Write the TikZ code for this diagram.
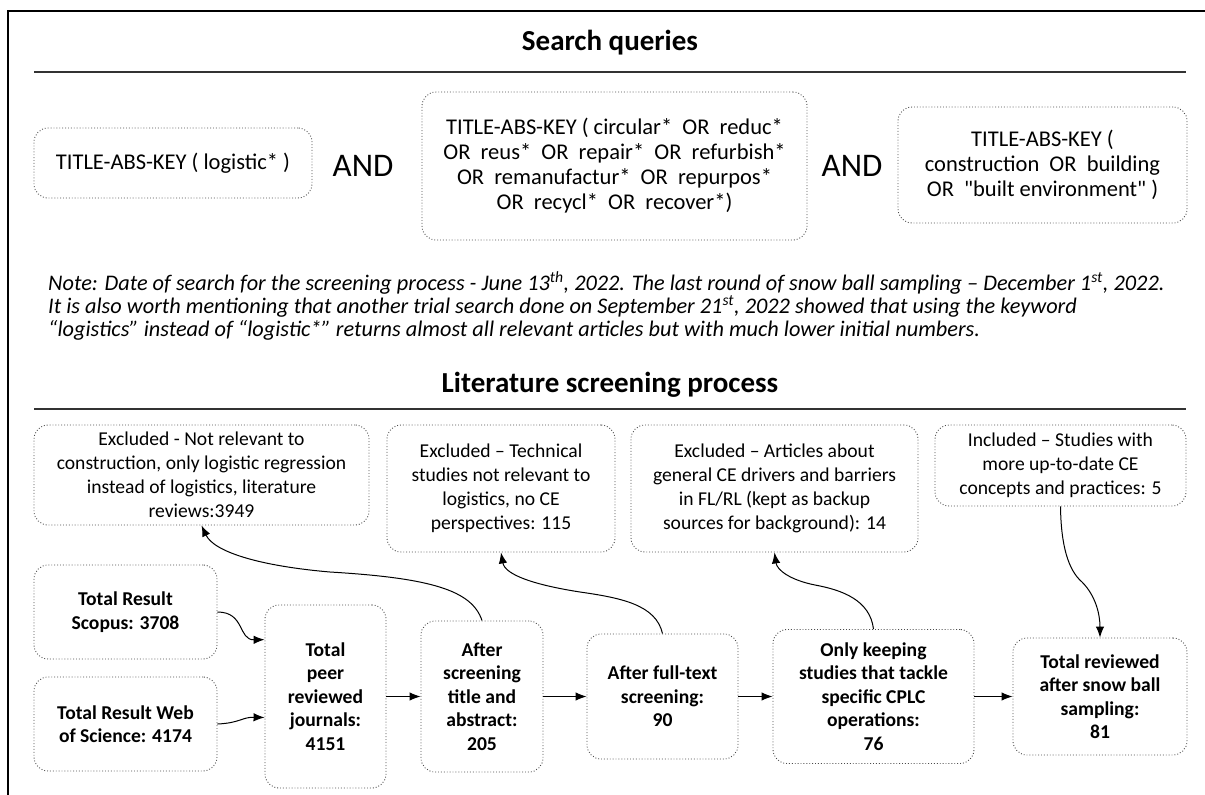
\documentclass[tikz,border=0pt]{standalone}
\usepackage{fontspec}
\setmainfont{Carlito}
\newfontfamily\straightq{Carlito}
\usetikzlibrary{arrows.meta}
\begin{document}
\begin{tikzpicture}[x=1pt,y=-1pt,
  bx/.style={draw=black!70, dotted, line width=0.9pt, rounded corners=14pt, align=center, inner sep=0pt},
  up/.style={font=\fontsize{22.5}{25}\selectfont},
  lo/.style={font=\fontsize{19.6}{24}\selectfont},
  lob/.style={font=\fontsize{19.6}{23.5}\selectfont\bfseries},
  andtxt/.style={font=\fontsize{33}{33}\selectfont},
  hd/.style={font=\fontsize{29}{30}\selectfont\bfseries},
  note/.style={font=\fontsize{22.3}{23}\selectfont\itshape, anchor=base west, inner sep=0pt},
  arr/.style={-{Latex[length=11pt,width=8.5pt]}, line width=1pt},
  rule/.style={line width=1.2pt, black!80},
]
\useasboundingbox (0,0) rectangle (1205,795);
\draw[line width=2pt] (8,800) -- (8,11) -- (1210,11);

% search queries
\node[hd] (h1) at (610,43) {Search queries};
\draw[rule] (34,72) -- (1186,72);
\node[bx,up,minimum width=278,minimum height=70] (q1) at (173,163) {TITLE-ABS-KEY ( logistic* )};
\node[andtxt] (and1) at (363,166) {AND};
\node[bx,up,minimum width=385,minimum height=148] (q2) at (614.5,166) {TITLE-ABS-KEY ( circular*~ OR~ reduc*\\ OR~ reus*~ OR~ repair*~ OR~ refurbish*\\ OR~ remanufactur*~ OR~ repurpos*\\ OR~ recycl*~ OR~ recover*)};
\node[andtxt] (and2) at (852,166) {AND};
\node[bx,up,minimum width=289,minimum height=116] (q3) at (1042.5,165) {TITLE-ABS-KEY (\\ construction~ OR~ building\\ OR~ {\straightq"}built environment{\straightq"} )};

% note
\node[note] (n1) at (48,290) {Note: Date of search for the screening process - June 13\textsuperscript{th}, 2022. The last round of snow ball sampling – December 1\textsuperscript{st}, 2022.};
\node[note] (n2) at (48,313) {It is also worth mentioning that another trial search done on September 21\textsuperscript{st}, 2022 showed that using the keyword};
\node[note] (n3) at (48,336) {“logistics” instead of “logistic*” returns almost all relevant articles but with much lower initial numbers.};

% literature screening
\node[hd] (h2) at (610,385) {Literature screening process};
\draw[rule] (34,409) -- (1186,409);

\node[bx,lo,minimum width=335,minimum height=100] (ex1) at (201.5,475) {Excluded - Not relevant to\\ construction, only logistic regression\\ instead of logistics, literature\\ reviews:3949};
\node[bx,lo,minimum width=228,minimum height=127] (ex2) at (501,488.5) {Excluded – Technical\\ studies not relevant to\\ logistics, no CE\\ perspectives: 115};
\node[bx,lo,minimum width=287,minimum height=127] (ex3) at (774.5,488.5) {Excluded – Articles about\\ general CE drivers and barriers\\ in FL/RL (kept as backup\\ sources for background): 14};
\node[bx,lo,minimum width=251,minimum height=81] (inc) at (1060.5,465.5) {Included – Studies with\\ more up-to-date CE\\ concepts and practices: 5};

\node[bx,lob,minimum width=183,minimum height=94] (sco) at (125.5,612) {Total Result\\ Scopus: 3708};
\node[bx,lob,minimum width=183,minimum height=94] (wos) at (125.5,724) {Total Result Web\\ of Science: 4174};
\node[bx,lob,minimum width=121,minimum height=183] (tot) at (325.5,696.5) {Total\\ peer\\ reviewed\\ journals:\\ 4151};
\node[bx,lob,minimum width=122,minimum height=151] (aft) at (482,696.5) {After\\ screening\\ title and\\ abstract:\\ 205};
\node[bx,lob,minimum width=151,minimum height=125] (ft) at (662.5,696.5) {After full-text\\ screening:\\ 90};
\node[bx,lob,minimum width=201,minimum height=134] (ok) at (873.5,696.5) {Only keeping\\ studies that tackle\\ specific CPLC\\ operations:\\ 76};
\node[bx,lob,minimum width=174,minimum height=117] (fin) at (1100,696.5) {Total reviewed\\ after snow ball\\ sampling:\\ 81};

% connectors
\draw[arr] (sco.east) .. controls (245,612) and (238,640) .. (tot.137);
\draw[arr] (wos.east) .. controls (240,723) and (242,717) .. (tot.199);
\draw[arr] (tot.east) -- (aft.west);
\draw[arr] (aft.east) -- (ft.west);
\draw[arr] (ft.east) -- (ok.west);
\draw[arr] (ok.east) -- (fin.west);
\draw[arr] (aft.north) .. controls (472,590) and (430,578) .. (330,572) .. controls (260,566) and (214,552) .. (ex1.south);
\draw[arr] (ft.north) .. controls (656,605) and (622,598) .. (580,592) .. controls (535,585) and (505,575) .. (ex2.south);
\draw[arr] (ok.north) .. controls (870,600) and (842,590) .. (815,585) .. controls (790,580) and (777,570) .. (ex3.south);
\draw[arr] (inc.south) .. controls (1061,545) and (1068,570) .. (1082,582) .. controls (1096,596) and (1100,615) .. (fin.north);
\end{tikzpicture}
\end{document}
